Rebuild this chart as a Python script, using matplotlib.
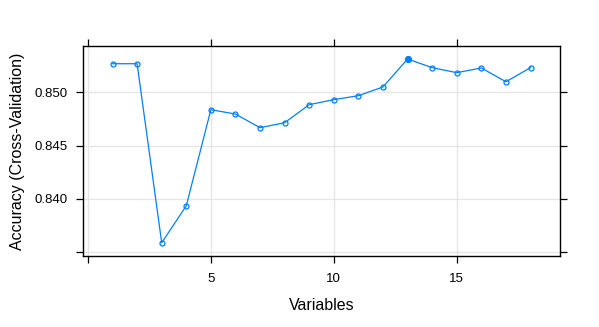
import numpy as np
import matplotlib.pyplot as plt
import matplotlib as mpl
mpl.rcParams.update({
    "font.family": ["Liberation Sans", "DejaVu Sans"],
    "axes.unicode_minus": False,
})

variables = [1, 2, 3, 4, 5, 6, 7, 8, 9, 10, 11, 12, 13, 14, 15, 16, 17, 18]
accuracy = [0.85268, 0.85268, 0.83589, 0.83936, 0.84837, 0.84796, 0.84668,
            0.84715, 0.84884, 0.84931, 0.84968, 0.85050, 0.85312, 0.85231,
            0.85184, 0.85228, 0.85099, 0.85231]
best_idx = 12

x_ticks = [0, 5, 10, 15]
x_ticklabels = ['', '5', '10', '15']
y_ticks = [0.835, 0.840, 0.845, 0.850]
y_ticklabels = ['', '0.840', '0.845', '0.850']

line_color = '#0080ff'

fig = plt.figure(figsize=(5.99, 3.27), dpi=100, facecolor='white')
ax = fig.add_axes([0.1386, 0.2171, 0.7963, 0.6422])

ax.plot(variables, accuracy, '-', color=line_color, linewidth=0.9,
        marker='o', markersize=3.6, markerfacecolor='none',
        markeredgecolor=line_color, markeredgewidth=0.9, zorder=3)
ax.plot(variables[best_idx], accuracy[best_idx], 'o', color=line_color,
        markersize=4.2, zorder=4)

ax.set_xlim(-0.2, 19.2)
ax.set_ylim(0.83465, 0.85434)
ax.set_xticks(x_ticks)
ax.set_xticklabels(x_ticklabels)
ax.set_yticks(y_ticks)
ax.set_yticklabels(y_ticklabels)

ax.grid(True, color='#e6e6e6', linewidth=1.0, zorder=0)
ax.set_axisbelow(True)

ax.tick_params(axis='both', which='major', direction='out', length=5,
               width=0.9, labelsize=9.5, color='black',
               top=True, right=True, labeltop=False, labelright=False)
ax.tick_params(axis='x', pad=7.5)
ax.tick_params(axis='y', pad=6)
for spine in ax.spines.values():
    spine.set_linewidth(1.0)
    spine.set_color('black')

ax.set_xlabel('Variables', fontsize=11.5, labelpad=9)
ax.set_ylabel('Accuracy (Cross-Validation)', fontsize=11.5, labelpad=7)

fig.savefig('out.png', dpi=100, facecolor='white')
plt.close(fig)
